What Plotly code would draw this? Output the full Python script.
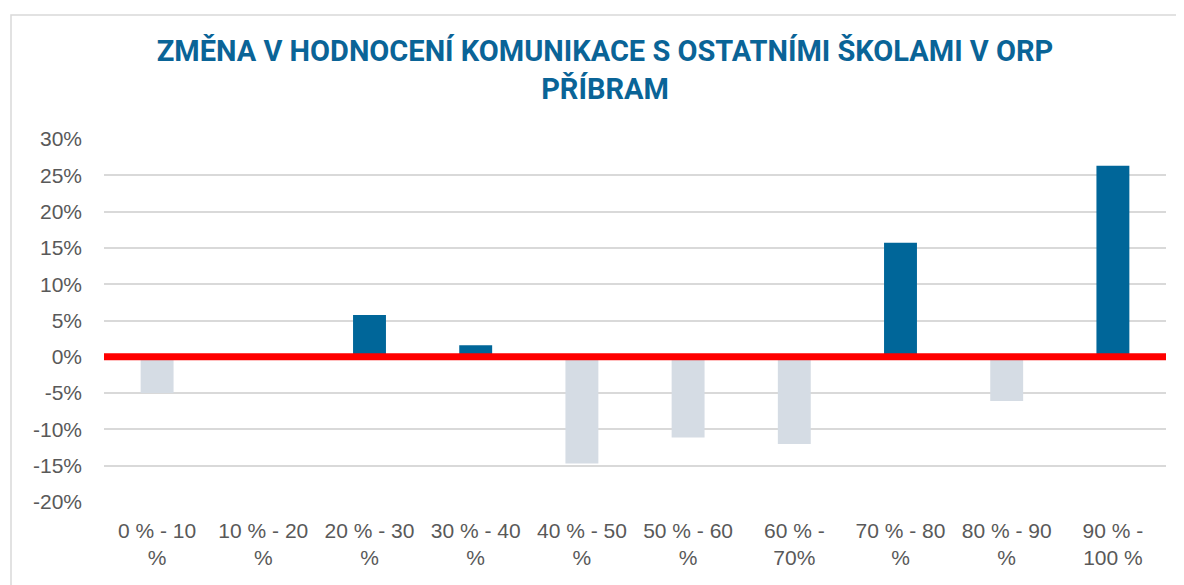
import plotly.graph_objects as go

categories = ["0 % - 10<br>%", "10 % - 20<br>%", "20 % - 30<br>%", "30 % - 40<br>%",
              "40 % - 50<br>%", "50 % - 60<br>%", "60 % -<br>70%", "70 % - 80<br>%",
              "80 % - 90<br>%", "90 % -<br>100 %"]
values = [-0.050, 0.0, 0.0575, 0.016, -0.147, -0.111, -0.120, 0.157, -0.061, 0.263]
tick_vals = [-0.20, -0.15, -0.10, -0.05, 0, 0.05, 0.10, 0.15, 0.20, 0.25, 0.30]
tick_text = ["-20%", "-15%", "-10%", "-5%", "0%", "5%", "10%", "15%", "20%", "25%", "30%"]
title = "ZMĚNA V HODNOCENÍ KOMUNIKACE S OSTATNÍMI ŠKOLAMI V ORP<br>PŘÍBRAM"

POS = "#006699"
NEG = "#d5dce4"
colors = [POS if v > 0 else NEG for v in values]

# page body has an 8px default margin; figure coordinates are compensated
L, T, R, B = 96, 131, 26, 91
PW, PH = 1184 - L - R, 585 - T - B

fig = go.Figure(go.Bar(x=categories, y=values, marker=dict(color=colors, line=dict(width=0)),
                       width=0.31, hoverinfo="skip"))

fig.update_layout(
    width=1184, height=585,
    margin=dict(l=L, r=R, t=T, b=B),
    paper_bgcolor="white", plot_bgcolor="white",
    showlegend=False,
    title=dict(text=title, x=597 / 1184, xanchor="center", y=1 - 53 / 585, yanchor="top",
               font=dict(family="Roboto", size=29, color="#0a6497", weight="bold")),
    font=dict(family="Liberation Sans", size=21, color="#595959"),
    xaxis=dict(showgrid=False, showline=False, ticks="", tickangle=0, ticklabelstandoff=14,
               tickfont=dict(size=21, color="#595959")),
    yaxis=dict(range=[-0.20, 0.30], tickvals=tick_vals, ticktext=tick_text,
               showgrid=True, gridcolor="#d9d9d9", gridwidth=1.5, zeroline=False,
               showline=False, ticks="", ticklabelstandoff=21,
               tickfont=dict(size=21, color="#595959")),
    shapes=[
        dict(type="line", xref="paper", yref="y", x0=0, x1=1, y0=0, y1=0,
             line=dict(color="#ff0000", width=7), layer="above"),
        dict(type="rect", xref="paper", yref="paper", x0=(3 - L) / PW, x1=1.2,
             y0=-1, y1=(585 - B - 7) / PH,
             line=dict(color="#d9d9d9", width=1.5), fillcolor="rgba(0,0,0,0)", layer="below"),
    ],
)

fig.write_html("out.html")
